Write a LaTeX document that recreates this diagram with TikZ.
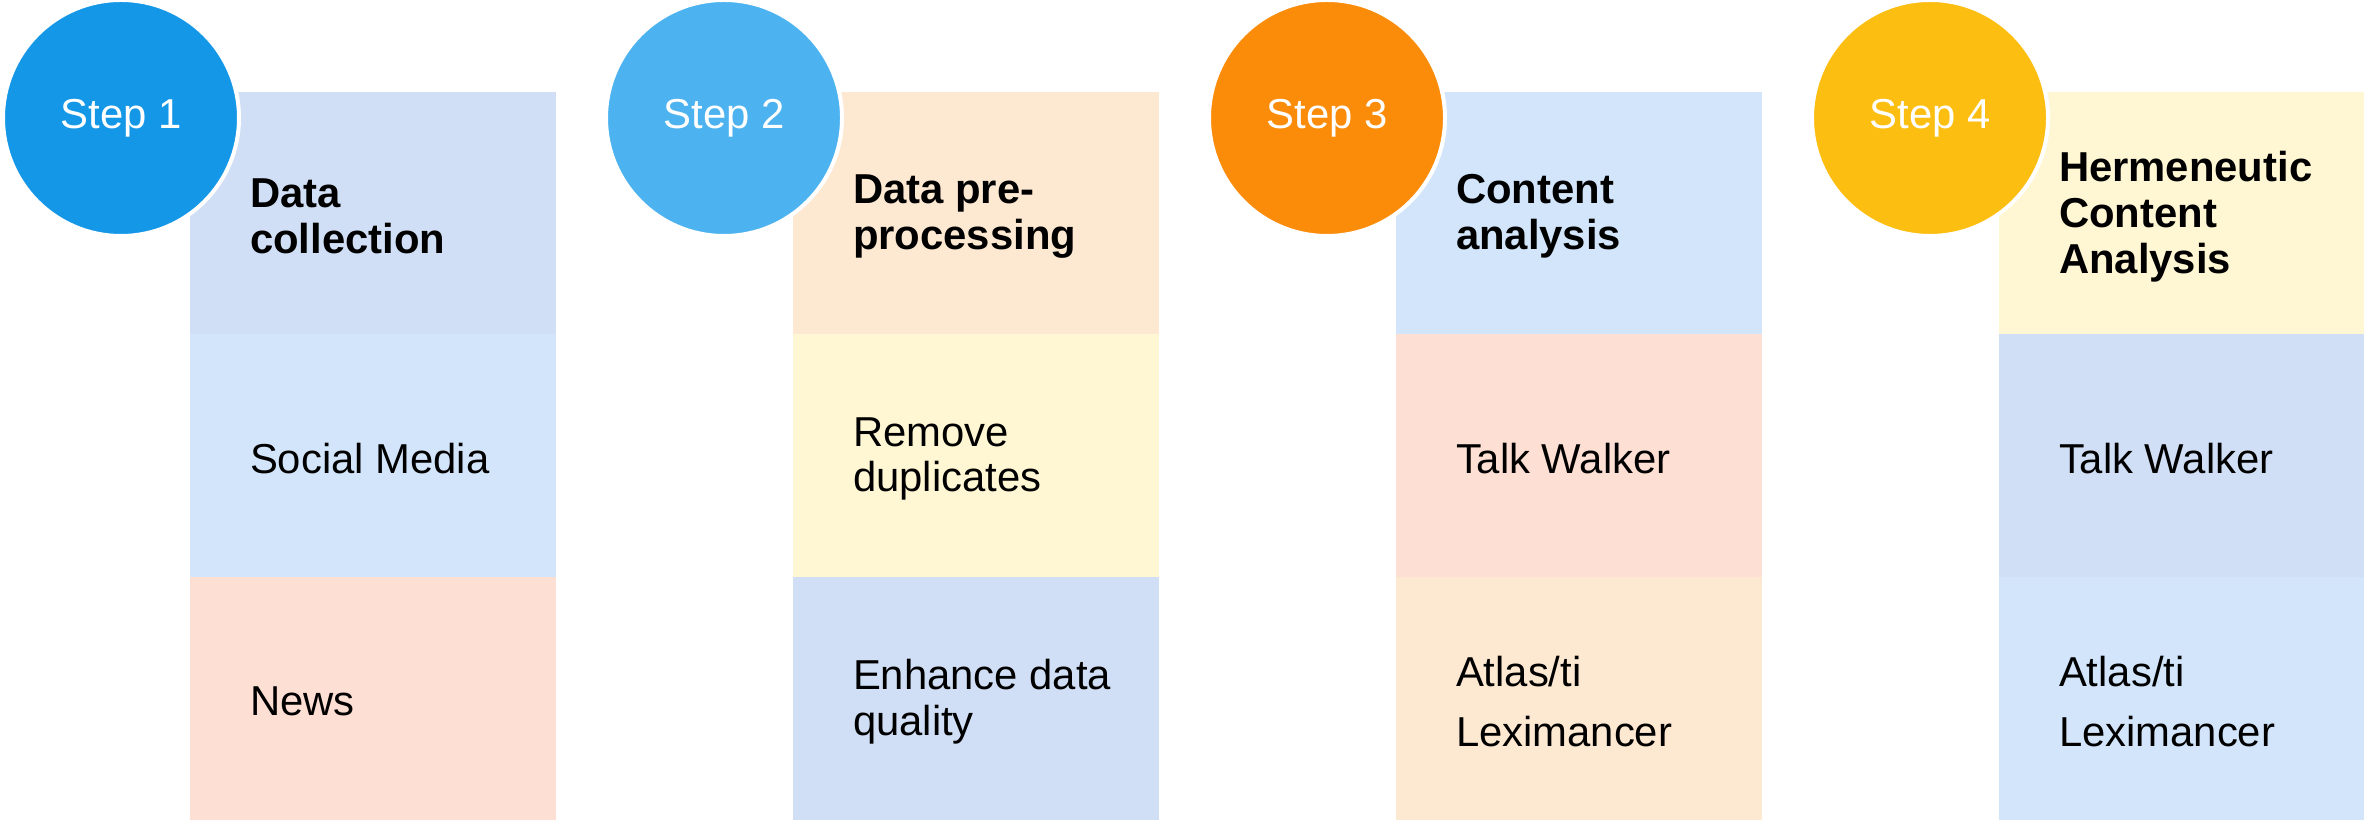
\documentclass[tikz,border=0pt]{standalone}
\usepackage{fontspec}
\setmainfont{Liberation Sans}
\usetikzlibrary{positioning}

\definecolor{stepA}{RGB}{21,151,232}
\definecolor{stepB}{RGB}{76,179,240}
\definecolor{stepC}{RGB}{251,140,10}
\definecolor{stepD}{RGB}{253,190,18}
\definecolor{blueA}{RGB}{208,223,245}
\definecolor{blueB}{RGB}{211,229,250}
\definecolor{peach}{RGB}{253,223,211}
\definecolor{apricot}{RGB}{253,232,210}
\definecolor{cream}{RGB}{255,247,211}

\begin{document}
\begin{tikzpicture}[font = \fontsize{11.9}{13}\selectfont]
    \tikzset{
      cell/.style = {minimum width = 3.66cm, minimum height = 2.43cm, inner sep = 0},
      entry/.style = {anchor = west, align = left, inner sep = 0, yshift = -0.03cm},
      head/.style = {entry, font = \fontsize{11.9}{13.1}\selectfont\bfseries},
      stepdot/.style = {circle, draw = white, line width = 0.04cm, minimum size = 2.36cm, inner sep = 0, text = white},
    }
    \useasboundingbox (0, 0) rectangle (23.64, 8.20);

    % step 1
    \node [cell, fill = blueA] (top1) at (3.73, 6.065) {};
    \node [cell, fill = blueB] (mid1) at (3.73, 3.64) {};
    \node [cell, fill = peach] (low1) at (3.73, 1.215) {};
    \node [head] (head1) at ([xshift = 0.6cm] top1.west) {Data\\collection};
    \node [entry] (item1a) at ([xshift = 0.6cm] mid1.west) {Social Media};
    \node [entry] (item1b) at ([xshift = 0.6cm] low1.west) {News};

    % step 2
    \node [cell, fill = apricot] (top2) at (9.76, 6.065) {};
    \node [cell, fill = cream] (mid2) at (9.76, 3.64) {};
    \node [cell, fill = blueA] (low2) at (9.76, 1.215) {};
    \node [head] (head2) at ([xshift = 0.6cm] top2.west) {Data pre-\\processing};
    \node [entry] (item2a) at ([xshift = 0.6cm] mid2.west) {Remove\\duplicates};
    \node [entry] (item2b) at ([xshift = 0.6cm] low2.west) {Enhance data\\quality};

    % step 3
    \node [cell, fill = blueB] (top3) at (15.79, 6.065) {};
    \node [cell, fill = peach] (mid3) at (15.79, 3.64) {};
    \node [cell, fill = apricot] (low3) at (15.79, 1.215) {};
    \node [head] (head3) at ([xshift = 0.6cm] top3.west) {Content\\analysis};
    \node [entry] (item3a) at ([xshift = 0.6cm] mid3.west) {Talk Walker};
    \node [entry] (item3b) at ([xshift = 0.6cm] low3.west) {Atlas/ti\\[0.14cm]Leximancer};

    % step 4
    \node [cell, fill = cream] (top4) at (21.82, 6.065) {};
    \node [cell, fill = blueA] (mid4) at (21.82, 3.64) {};
    \node [cell, fill = blueB] (low4) at (21.82, 1.215) {};
    \node [head] (head4) at ([xshift = 0.6cm] top4.west) {Hermeneutic\\Content\\Analysis};
    \node [entry] (item4a) at ([xshift = 0.6cm] mid4.west) {Talk Walker};
    \node [entry] (item4b) at ([xshift = 0.6cm] low4.west) {Atlas/ti\\[0.14cm]Leximancer};

    % step circles
    \node [stepdot, fill = stepA] (step1) at (1.21, 7.02) {Step 1};
    \node [stepdot, fill = stepB] (step2) at (7.24, 7.02) {Step 2};
    \node [stepdot, fill = stepC] (step3) at (13.27, 7.02) {Step 3};
    \node [stepdot, fill = stepD] (step4) at (19.30, 7.02) {Step 4};
\end{tikzpicture}
\end{document}
